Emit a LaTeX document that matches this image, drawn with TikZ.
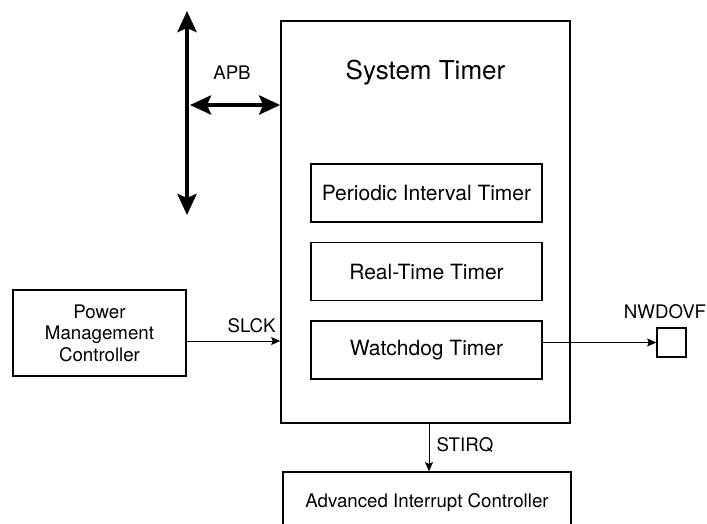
\documentclass[tikz,border=0pt]{standalone}
\usepackage{fontspec}
\setmainfont{TeX Gyre Heros}
\usetikzlibrary{arrows.meta,positioning}

\begin{document}
\begin{tikzpicture}[x=1pt,y=-1pt,
  box/.style={draw, line width=1.6pt, inner sep=0pt, align=center},
  tmr/.style={box, minimum width=231pt, minimum height=58pt, font=\fontsize{21}{25}\selectfont},
  bus/.style={{Stealth[length=21pt,width=19pt,inset=4pt]}-{Stealth[length=21pt,width=19pt,inset=4pt]}, line width=4.5pt},
  sig/.style={-{Stealth[length=9pt,width=8pt,inset=1.5pt]}, line width=0.8pt},
  lbl/.style={font=\fontsize{18.7}{21}\selectfont, anchor=base}]
\path[use as bounding box, clip] (0,0) rectangle (707,523);
% system timer block
\node[box, minimum width=289pt, minimum height=402pt] (sys) at (425.5,222) {};
\node[lbl, font=\fontsize{26}{30}\selectfont] (title) at (425.5,79) {System Timer};
\node[tmr] (pit) at (426.5,193) {Periodic Interval Timer};
\node[tmr, below=19pt of pit] (rtt) {Real-Time Timer};
\node[tmr, below=19pt of rtt] (wdt) {Watchdog Timer};
% outside blocks
\node[box, minimum width=173pt, minimum height=86pt, font=\fontsize{18.7}{21.5}\selectfont] (pmc) at (99.5,333) {Power\\Management\\Controller};
\node[box, minimum size=29pt] (nwd) at (671.5,342.5) {};
\node[box, minimum width=288pt, minimum height=62pt, font=\fontsize{18.7}{21}\selectfont] (aic) at (427,503) {Advanced Interrupt Controller};
% bus
\coordinate (bustop) at (187,11);
\coordinate (busbot) at (187,215);
\coordinate (apb) at (190,105);
\draw[bus] (bustop) -- (busbot);
\draw[bus] (apb) -- (apb -| sys.west);
\node[lbl] (apblbl) at (232,79) {APB};
% signals
\draw[sig] ([yshift=-8pt]pmc.east) -- ([yshift=-8pt]pmc.east -| sys.west);
\node[lbl] (slck) at (251.5,332) {SLCK};
\draw[sig] (wdt.east |- nwd.west) -- (nwd.west);
\node[lbl] (nwdlbl) at (665,318) {NWDOVF};
\draw[sig] ([xshift=3.5pt]sys.south) -- ([xshift=3.5pt]sys.south |- aic.north);
\node[lbl] (stirq) at (465,451) {STIRQ};
\end{tikzpicture}
\end{document}
